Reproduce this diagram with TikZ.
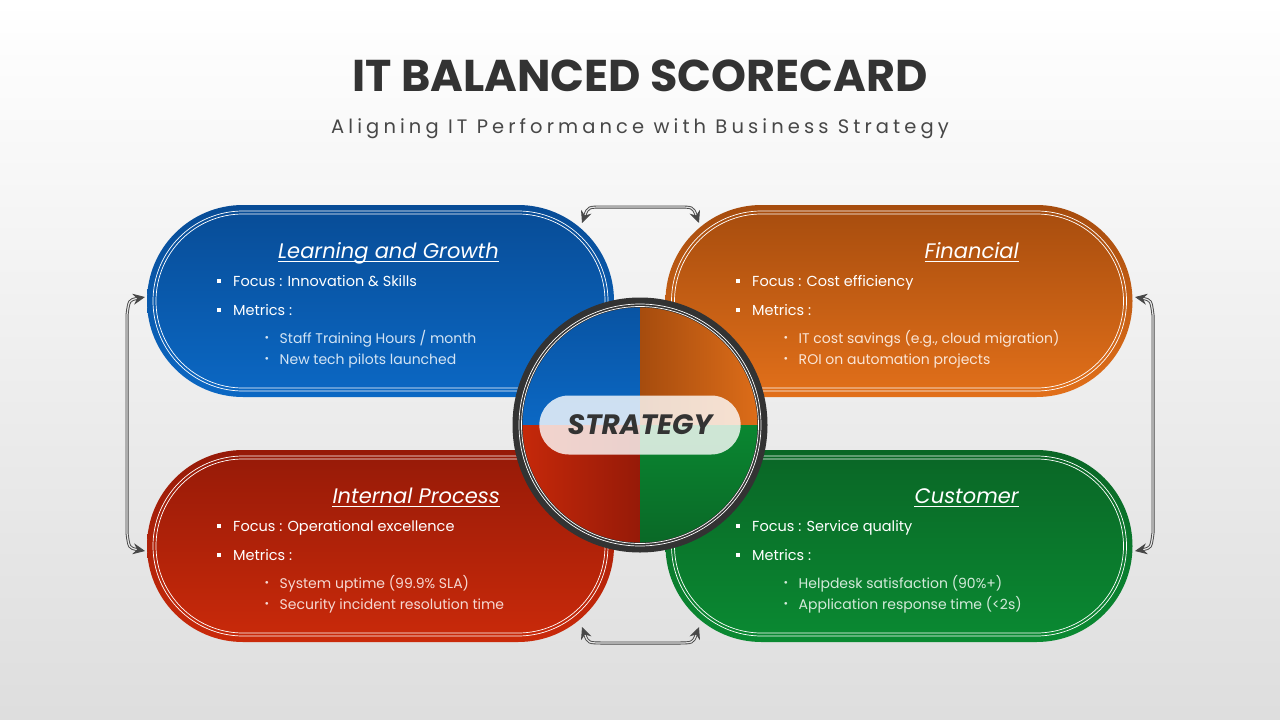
\documentclass[tikz,border=0pt]{standalone}
\usepackage{fontspec}
\setmainfont{Poppins}
\newfontfamily\spaced{Poppins}[LetterSpace=21]
\usetikzlibrary{shapes.misc,arrows.meta,positioning}

\definecolor{ink}{HTML}{333333}
\definecolor{lgTop}{HTML}{084C96}
\definecolor{lgBot}{HTML}{0B68C4}
\definecolor{fiTop}{HTML}{A64C0E}
\definecolor{fiBot}{HTML}{E2701A}
\definecolor{ipTop}{HTML}{961A08}
\definecolor{ipBot}{HTML}{CA2A0A}
\definecolor{cuTop}{HTML}{0A6626}
\definecolor{cuBot}{HTML}{0A8A32}

\newcommand{\sqbullet}{\rule[.22em]{4pt}{4pt}\hspace{12pt}}
\newcommand{\dotbullet}{\hspace{47.5pt}\raisebox{1.5pt}{\fontsize{11}{11}\selectfont\textbullet}\hspace{10.5pt}}
\newcommand{\subsize}{\fontsize{14}{21}\selectfont}

\begin{document}
\begin{tikzpicture}[x=1pt,y=-1pt,>={Stealth[length=12pt,width=11pt,inset=4pt]},
  card/.style={rounded rectangle, minimum width=467pt, minimum height=192pt, inner sep=0pt, outer sep=0pt},
  rim/.style={rounded rectangle, draw=white, line width=.7pt, inner sep=0pt, outer sep=0pt},
  heading/.style={font=\fontsize{21}{24}\selectfont\itshape, text=white, inner sep=0pt, anchor=base east},
  body/.style={font=\fontsize{14.5}{21}\selectfont, text=white, align=left, inner sep=0pt, anchor=north west},
  link/.style={<->, draw=ink!90, double=white!80!gray, double distance=1.2pt, line width=.9pt}]

% background
\shade[top color=white, bottom color=black!13] (0,0) rectangle (1280,720);

\node[font=\fontsize{44.5}{50}\selectfont\bfseries, text=ink] (title) at (640,76) {IT BALANCED SCORECARD};
\node[font=\fontsize{19.5}{24}\selectfont\spaced, text=ink!90, anchor=base] (subtitle) at (640,133) {Aligning IT Performance with Business Strategy};

% connectors between the cards
\coordinate (tA) at (582,223); \coordinate (tB) at (699,223);
\coordinate (bA) at (582,627); \coordinate (bB) at (699,627);
\coordinate (lA) at (145,297); \coordinate (lB) at (145,551);
\coordinate (rA) at (1135,297); \coordinate (rB) at (1135,551);
\draw[link] (tA) .. controls (588,207) .. (604,207) -- (677,207) .. controls (693,207) .. (tB);
\draw[link] (bA) .. controls (588,643) .. (604,643) -- (677,643) .. controls (693,643) .. (bB);
\draw[link] (lA) .. controls (129,300) .. (127,315) -- (127,533) .. controls (129,548) .. (lB);
\draw[link] (rA) .. controls (1151,300) .. (1153,315) -- (1153,533) .. controls (1151,548) .. (rB);

% cards
\node[card, top color=lgTop, bottom color=lgBot] (lg) at (380.5,301) {};
\node[card, top color=fiTop, bottom color=fiBot] (fi) at (899,301) {};
\node[card, top color=ipTop, bottom color=ipBot] (ip) at (380.5,546) {};
\node[card, top color=cuTop, bottom color=cuBot] (cu) at (899,546) {};
\foreach \c in {lg,fi,ip,cu} {
  \node[rim, minimum width=455pt, minimum height=180pt] at (\c) {};
  \node[rim, minimum width=449pt, minimum height=174pt] at (\c) {};
}

\node[heading] (lgh) at (499,258) {Learning and Growth};
\node[heading] (fih) at (1019,258) {Financial};
\node[heading] (iph) at (500,503) {Internal Process};
\node[heading] (cuh) at (1019,503) {Customer};
\foreach \h in {lgh,fih,iph,cuh}
  \draw[white, line width=.9pt] ([yshift=-3.5pt]\h.base west) -- ([yshift=-3.5pt]\h.base east);

\node[body] (lgb) at (217,275) {\sqbullet Focus : Innovation \& Skills\\[8pt]
  \sqbullet Metrics :\\[7pt]
  {\subsize\color{white!82!lgBot}\dotbullet Staff Training Hours / month}\\
  {\subsize\color{white!82!lgBot}\dotbullet New tech pilots launched}};
\node[body] (fib) at (736,275) {\sqbullet Focus : Cost efficiency\\[8pt]
  \sqbullet Metrics :\\[7pt]
  {\subsize\color{white!82!fiBot}\dotbullet IT cost savings (e.g., cloud migration)}\\
  {\subsize\color{white!82!fiBot}\dotbullet ROI on automation projects}};
\node[body] (ipb) at (217,520) {\sqbullet Focus : Operational excellence\\[8pt]
  \sqbullet Metrics :\\[7pt]
  {\subsize\color{white!82!ipBot}\dotbullet System uptime (99.9\% SLA)}\\
  {\subsize\color{white!82!ipBot}\dotbullet Security incident resolution time}};
\node[body] (cub) at (736,520) {\sqbullet Focus : Service quality\\[8pt]
  \sqbullet Metrics :\\[7pt]
  {\subsize\color{white!82!cuBot}\dotbullet Helpdesk satisfaction (90\%+)}\\
  {\subsize\color{white!82!cuBot}\dotbullet Application response time (<2s)}};

% strategy hub
\coordinate (hub) at (640,425);
\begin{scope}
  \clip (hub) circle (126pt);
  \shade[top color=lgTop!80!lgBot, bottom color=lgBot] (hub) rectangle ++(-130,-130);
  \shade[left color=fiTop, right color=fiBot] (hub) rectangle ++(130,-130);
  \shade[left color=ipBot, right color=ipTop] (hub) rectangle ++(-130,130);
  \shade[top color=cuBot!90!cuTop, bottom color=cuTop] (hub) rectangle ++(130,130);
\end{scope}
\draw[ink, line width=10pt] (hub) circle (122.5pt);
\draw[white, line width=.7pt] (hub) circle (121pt) (hub) circle (118.5pt);
\node[rounded rectangle, fill=white, fill opacity=.8, text opacity=1, minimum width=208pt, minimum height=59pt,
  font=\fontsize{28}{32}\selectfont\bfseries\itshape, text=ink] (core) at (hub) {STRATEGY};
\end{tikzpicture}
\end{document}
